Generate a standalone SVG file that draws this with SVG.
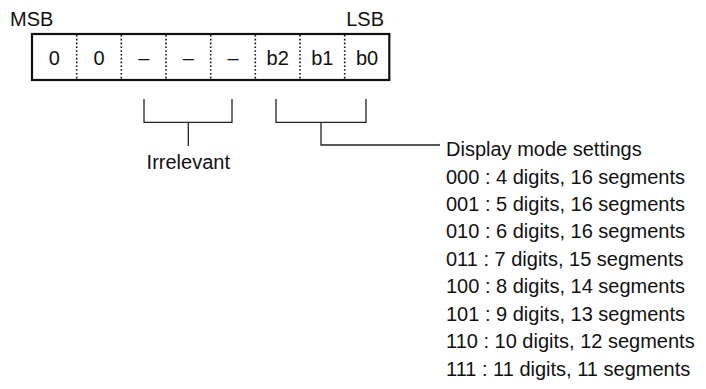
<svg xmlns="http://www.w3.org/2000/svg" width="706" height="389" viewBox="0 0 706 389">
<style>
text{font-family:"Liberation Sans",Arial,sans-serif;font-size:20px;fill:#111}
.c{text-anchor:middle}
.div{stroke:#111;stroke-width:1.6;stroke-dasharray:1.6 2.2;fill:none}
.br{stroke:#222;stroke-width:1.3;fill:none}
</style>
<rect width="706" height="389" fill="#fff"/>
<g id="register">
<text x="10" y="26">MSB</text>
<text x="384" y="26" text-anchor="end">LSB</text>
<rect x="32" y="34" width="357.3" height="46" fill="#fff" stroke="#111" stroke-width="2.2"/>
<line class="div" x1="76.7" y1="35" x2="76.7" y2="79"/>
<line class="div" x1="121.3" y1="35" x2="121.3" y2="79"/>
<line class="div" x1="166" y1="35" x2="166" y2="79"/>
<line class="div" x1="210.7" y1="35" x2="210.7" y2="79"/>
<line class="div" x1="255.3" y1="35" x2="255.3" y2="79"/>
<line class="div" x1="300" y1="35" x2="300" y2="79"/>
<line class="div" x1="344.7" y1="35" x2="344.7" y2="79"/>
<text class="c" x="54.3" y="65">0</text>
<text class="c" x="99" y="65">0</text>
<text class="c" x="143.7" y="65">–</text>
<text class="c" x="188.3" y="65">–</text>
<text class="c" x="233" y="65">–</text>
<text class="c" x="277.7" y="65">b2</text>
<text class="c" x="322.3" y="65">b1</text>
<text class="c" x="367" y="65">b0</text>
</g>
<g id="connectors">
<path class="br" d="M144 99V122.3H232V99M188.3 122.3V146"/>
<path class="br" d="M276 99V122.3H366V99M321 122.3V145H440"/>
</g>
<g id="irrelevant">
<text class="c" x="188.3" y="169">Irrelevant</text>
</g>
<g id="settings">
<text x="446" y="156">Display mode settings</text>
<text x="446" y="184">000 : 4 digits, 16 segments</text>
<text x="446" y="211">001 : 5 digits, 16 segments</text>
<text x="446" y="238">010 : 6 digits, 16 segments</text>
<text x="446" y="265.5">011 : 7 digits, 15 segments</text>
<text x="446" y="293">100 : 8 digits, 14 segments</text>
<text x="446" y="320.5">101 : 9 digits, 13 segments</text>
<text x="446" y="348">110 : 10 digits, 12 segments</text>
<text x="446" y="375.5">111 : 11 digits, 11 segments</text>
</g>
</svg>
